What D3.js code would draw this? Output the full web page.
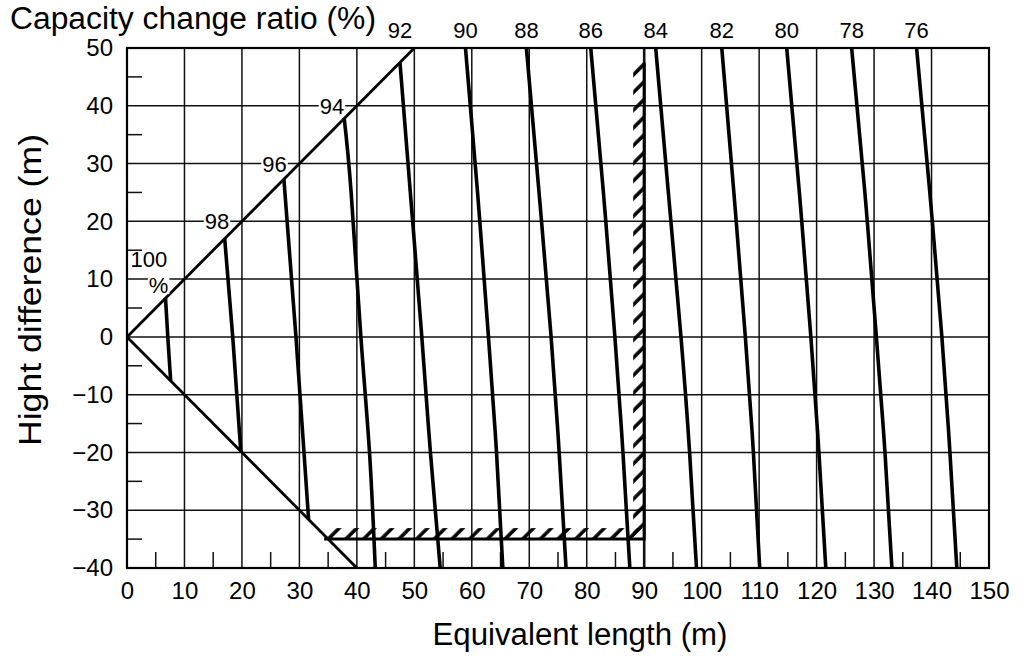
<!DOCTYPE html>
<html>
<head>
<meta charset="utf-8">
<script src="https://cdn.jsdelivr.net/npm/d3@7"></script>
<style>
    body { margin: 0; background: #fff; }
    svg { display: block; font-family: "Liberation Sans", Arial, sans-serif; }
</style>
</head>
<body>
<div id="chart"></div>
<script>
// axis ticks
var lengthTicks = [0, 10, 20, 30, 40, 50, 60, 70, 80, 90, 100, 110, 120, 130, 140, 150];
var heightTicks = [-40, -30, -20, -10, 0, 10, 20, 30, 40, 50];
var lengthMinor = [5, 15, 25, 35, 45, 55, 65, 75, 85, 95, 105, 115, 125, 135, 145];
var heightMinor = [-35, -25, -15, -5, 5, 15, 25, 35, 45];

// capacity change ratio curves, [equivalent length, height difference]
var ratios = [100, 98, 96, 94, 92, 90, 88, 86, 84, 82, 80, 78, 76];
var ratioCurves = [
    [[6.7, 6.7], [7.1, 0], [7.6, -7.6]],
    [[17.0, 17.0], [18.4, 0], [19.8, -19.8]],
    [[27.3, 27.3], [29.4, 0], [30.8, -20], [31.6, -31.6]],
    [[37.8, 37.8], [39.0, 25], [40.7, 0], [42.2, -20], [43.2, -40]],
    [[47.5, 47.5], [49.3, 25], [51.3, 0], [52.8, -20], [54.5, -40]],
    [[58.9, 50], [61.0, 25], [62.9, 0], [64.3, -20], [65.4, -40]],
    [[69.5, 50], [71.7, 25], [73.8, 0], [75.2, -20], [76.4, -40]],
    [[80.7, 50], [82.9, 25], [84.9, 0], [86.3, -20], [87.5, -40]],
    [[92.0, 50], [94.2, 25], [96.4, 0], [97.9, -20], [99.1, -40]],
    [[103.5, 50], [105.6, 25], [107.6, 0], [109.0, -20], [110.1, -40]],
    [[114.8, 50], [117.0, 25], [119.0, 0], [120.4, -20], [121.6, -40]],
    [[126.1, 50], [128.4, 25], [130.4, 0], [131.9, -20], [133.1, -40]],
    [[137.4, 50], [139.7, 25], [141.8, 0], [143.2, -20], [144.4, -40]]
];

// limit lines
var upperLimit = [[0, 0], [50, 50]];
var lowerLimit = [[0, 0], [40, -40]];
var hatchLine = [[34.3, -35], [90, -35], [90, 47.5]];

var chart = {
    svg: 0,
    w: 1026,
    h: 661,
    margin: { top: 48, right: 37, bottom: 93, left: 127 }
};

function gen_chart() {
    var m = chart.margin;
    var pw = chart.w - m.left - m.right;
    var ph = chart.h - m.top - m.bottom;

    chart.svg = d3.select("#chart")
        .append("svg")
        .attr("width", chart.w)
        .attr("height", chart.h);

    var defs = chart.svg.append("defs");
    defs.append("pattern")
        .attr("id", "hatch")
        .attr("patternUnits", "userSpaceOnUse")
        .attr("width", 12.5)
        .attr("height", 12.5)
        .attr("patternTransform", "rotate(45)")
        .append("line")
        .attr("x1", 2).attr("y1", 0)
        .attr("x2", 2).attr("y2", 12.5)
        .attr("stroke", "#000")
        .attr("stroke-width", 3.5);

    var x = d3.scaleLinear().domain([0, 150]).range([0, pw]);
    var y = d3.scaleLinear().domain([-40, 50]).range([ph, 0]);

    var g = chart.svg.append("g")
        .attr("transform", "translate(" + m.left + "," + m.top + ")");

    // grid
    g.append("g").selectAll("line")
        .data(lengthTicks)
        .enter().append("line")
        .attr("x1", function (d) { return x(d); })
        .attr("x2", function (d) { return x(d); })
        .attr("y1", 0).attr("y2", ph)
        .attr("stroke", "#111")
        .attr("stroke-width", function (d) { return d == 90 ? 2.6 : 1.5; });

    g.append("g").selectAll("line")
        .data(heightTicks)
        .enter().append("line")
        .attr("x1", 0).attr("x2", pw)
        .attr("y1", function (d) { return y(d); })
        .attr("y2", function (d) { return y(d); })
        .attr("stroke", "#111")
        .attr("stroke-width", 1.5);

    // minor ticks
    g.append("g").selectAll("line")
        .data(lengthMinor)
        .enter().append("line")
        .attr("x1", function (d) { return x(d); })
        .attr("x2", function (d) { return x(d); })
        .attr("y1", ph).attr("y2", ph - 16)
        .attr("stroke", "#111")
        .attr("stroke-width", 1.5);

    g.append("g").selectAll("line")
        .data(heightMinor)
        .enter().append("line")
        .attr("x1", 0).attr("x2", 15)
        .attr("y1", function (d) { return y(d); })
        .attr("y2", function (d) { return y(d); })
        .attr("stroke", "#111")
        .attr("stroke-width", 1.5);

    // frame
    g.append("rect")
        .attr("width", pw).attr("height", ph)
        .attr("fill", "none")
        .attr("stroke", "#000")
        .attr("stroke-width", 2.2);

    // hatched limits
    g.append("rect")
        .attr("x", x(hatchLine[0][0]))
        .attr("y", y(hatchLine[0][1]) - 11)
        .attr("width", x(hatchLine[1][0]) - x(hatchLine[0][0]))
        .attr("height", 11)
        .attr("fill", "url(#hatch)");
    g.append("rect")
        .attr("x", x(hatchLine[1][0]) - 11)
        .attr("y", y(hatchLine[2][1]))
        .attr("width", 11)
        .attr("height", y(hatchLine[1][1]) - y(hatchLine[2][1]))
        .attr("fill", "url(#hatch)");

    var line = d3.line()
        .x(function (d) { return x(d[0]); })
        .y(function (d) { return y(d[1]); });

    g.append("path")
        .datum(hatchLine)
        .attr("d", line)
        .attr("fill", "none")
        .attr("stroke", "#000")
        .attr("stroke-width", 3);

    g.selectAll(".limit")
        .data([upperLimit, lowerLimit])
        .enter().append("path")
        .attr("class", "limit")
        .attr("d", line)
        .attr("fill", "none")
        .attr("stroke", "#000")
        .attr("stroke-width", 2.8);

    var curve = d3.line()
        .x(function (d) { return x(d[0]); })
        .y(function (d) { return y(d[1]); })
        .curve(d3.curveNatural);

    g.selectAll(".ratio")
        .data(ratioCurves)
        .enter().append("path")
        .attr("class", "ratio")
        .attr("d", curve)
        .attr("fill", "none")
        .attr("stroke", "#000")
        .attr("stroke-width", 3.6);

    // ratio labels
    ratios.forEach(function (r, i) {
        var top = ratioCurves[i][0];
        if (top[1] >= 47) {
            g.append("text")
                .attr("x", x(top[0]))
                .attr("y", -10)
                .attr("text-anchor", "middle")
                .attr("font-size", 22)
                .text(r);
        } else {
            var gy = Math.round(top[1] / 10) * 10;
            var lg = g.append("g");
            var t;
            if (r == 100) {
                t = lg.append("text")
                    .attr("x", x(gy - 6.2))
                    .attr("y", y(gy) - 12)
                    .attr("text-anchor", "middle")
                    .attr("font-size", 22)
                    .text(r);
                var p = lg.append("text")
                    .attr("x", x(gy - 4.5))
                    .attr("y", y(gy) + 14)
                    .attr("text-anchor", "middle")
                    .attr("font-size", 22)
                    .text("%");
                var pb = p.node().getBBox();
                lg.insert("rect", "text")
                    .attr("x", pb.x - 1).attr("y", pb.y + 4)
                    .attr("width", pb.width + 2).attr("height", pb.height - 8)
                    .attr("fill", "#fff");
            } else {
                t = lg.append("text")
                    .attr("x", x(gy - 2.2))
                    .attr("y", y(gy) + 8)
                    .attr("text-anchor", "end")
                    .attr("font-size", 22)
                    .text(r);
                var b = t.node().getBBox();
                lg.insert("rect", "text")
                    .attr("x", b.x - 1).attr("y", b.y + 3)
                    .attr("width", b.width + 2).attr("height", b.height - 6)
                    .attr("fill", "#fff");
            }
        }
    });

    // axes
    var xAxis = g.append("g")
        .attr("transform", "translate(0," + ph + ")")
        .call(d3.axisBottom(x).tickValues(lengthTicks).tickSize(0).tickPadding(14));
    xAxis.select(".domain").remove();
    xAxis.selectAll("text")
        .attr("font-size", 24)
        .attr("font-family", "Liberation Sans, Arial, sans-serif")
        .attr("fill", "#000");

    var yAxis = g.append("g")
        .call(d3.axisLeft(y).tickValues(heightTicks).tickSize(0).tickPadding(14)
            .tickFormat(function (d) { return d < 0 ? "\u2212" + (-d) : d; }));
    yAxis.select(".domain").remove();
    yAxis.selectAll("text")
        .attr("font-size", 24)
        .attr("font-family", "Liberation Sans, Arial, sans-serif")
        .attr("fill", "#000");

    // titles
    chart.svg.append("text")
        .attr("x", 10)
        .attr("y", 29)
        .attr("font-size", 31)
        .attr("textLength", 366)
        .attr("lengthAdjust", "spacingAndGlyphs")
        .text("Capacity change ratio (%)");

    chart.svg.append("text")
        .attr("x", 580)
        .attr("y", 645)
        .attr("text-anchor", "middle")
        .attr("font-size", 31)
        .attr("textLength", 295)
        .attr("lengthAdjust", "spacingAndGlyphs")
        .text("Equivalent length (m)");

    chart.svg.append("text")
        .attr("transform", "translate(41,290) rotate(-90)")
        .attr("text-anchor", "middle")
        .attr("font-size", 31)
        .attr("textLength", 312)
        .attr("lengthAdjust", "spacingAndGlyphs")
        .text("Hight difference (m)");
}

gen_chart();
</script>
</body>
</html>
